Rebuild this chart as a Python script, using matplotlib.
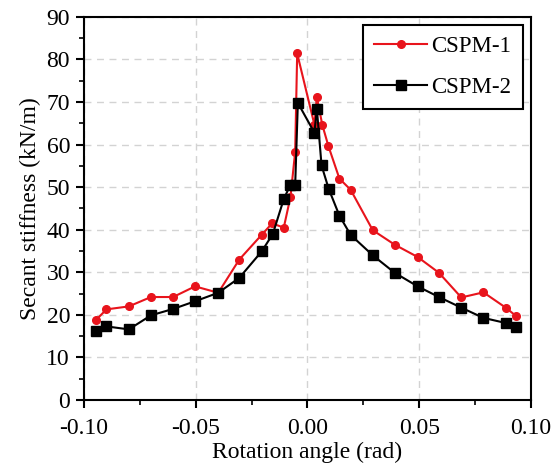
import matplotlib
matplotlib.use("Agg")
import matplotlib.pyplot as plt
from matplotlib.ticker import MultipleLocator

plt.rcParams['font.family'] = ['Liberation Serif', 'DejaVu Serif']
plt.rcParams['mathtext.fontset'] = 'stix'

x1 = [-0.0948, -0.0899, -0.0799, -0.0700, -0.0601, -0.0503, -0.0399, -0.0305, -0.0205,
      -0.0158, -0.0106, -0.0076, -0.0055, -0.0046,
      0.0031, 0.0042, 0.0066, 0.0094, 0.0143, 0.0193, 0.0292, 0.0390, 0.0493, 0.0588,
      0.0688, 0.0787, 0.0887, 0.0934]
y1 = [18.7, 21.3, 22.0, 24.2, 24.2, 26.7, 25.2, 33.0, 38.8,
      41.5, 40.5, 47.7, 58.3, 81.4,
      64.7, 71.2, 64.7, 59.6, 52.0, 49.4, 39.9, 36.5, 33.6, 29.9,
      24.1, 25.3, 21.7, 19.7]

x2 = [-0.0948, -0.0899, -0.0799, -0.0700, -0.0601, -0.0503, -0.0399, -0.0305, -0.0205,
      -0.0155, -0.0106, -0.0076, -0.0055, -0.0043,
      0.0031, 0.0042, 0.0063, 0.0095, 0.0143, 0.0193, 0.0292, 0.0390, 0.0493, 0.0588,
      0.0688, 0.0787, 0.0887, 0.0934]
y2 = [16.2, 17.3, 16.6, 19.9, 21.4, 23.2, 25.2, 28.7, 34.9,
      39.0, 47.2, 50.6, 50.4, 69.8,
      62.8, 68.4, 55.1, 49.6, 43.3, 38.8, 34.0, 29.9, 26.7, 24.2,
      21.7, 19.3, 18.1, 17.1]

labels = ['CSPM-1', 'CSPM-2']

fig = plt.figure(figsize=(5.52, 4.69), dpi=100)
ax = fig.add_axes([0.152, 0.147, 0.810, 0.817])

ax.plot(x1, y1, color='#e8141c', marker='o', markersize=5.5, linewidth=1.5, label=labels[0], zorder=3)
ax.plot(x2, y2, color='black', marker='s', markersize=6.5, linewidth=1.5, label=labels[1], zorder=3)

ax.set_xlim(-0.10, 0.10)
ax.set_ylim(0, 90)
ax.xaxis.set_major_locator(MultipleLocator(0.05))
ax.xaxis.set_minor_locator(MultipleLocator(0.025))
ax.yaxis.set_major_locator(MultipleLocator(10))
ax.yaxis.set_minor_locator(MultipleLocator(5))
ax.set_xticks([-0.10, -0.05, 0.0, 0.05, 0.10])
ax.set_xticklabels(['-0.10', '-0.05', '0.00', '0.05', '0.10'])

ax.grid(True, which='major', linestyle=(0, (5, 4)), color='#d3d3d3', linewidth=1.0)
ax.set_axisbelow(True)

ax.tick_params(which='major', direction='out', length=6, width=1.5, labelsize=17, pad=4)
ax.tick_params(axis='x', which='major', pad=7)
ax.tick_params(which='minor', direction='out', length=3.5, width=1.2)
for s in ax.spines.values():
    s.set_linewidth(1.5)

ax.set_xlabel('Rotation angle (rad)', fontsize=17, labelpad=2)
ax.set_ylabel('Secant stiffness (kN/m)', fontsize=17, labelpad=4)

leg = ax.legend(loc='upper right', fontsize=16.5, frameon=True, fancybox=False,
                edgecolor='black', handlelength=2.3, borderpad=0.5, labelspacing=0.85,
                handletextpad=0.2, borderaxespad=0.35)
leg.get_frame().set_linewidth(1.5)
leg.get_frame().set_alpha(1)

fig.savefig('out.png', dpi=100)
